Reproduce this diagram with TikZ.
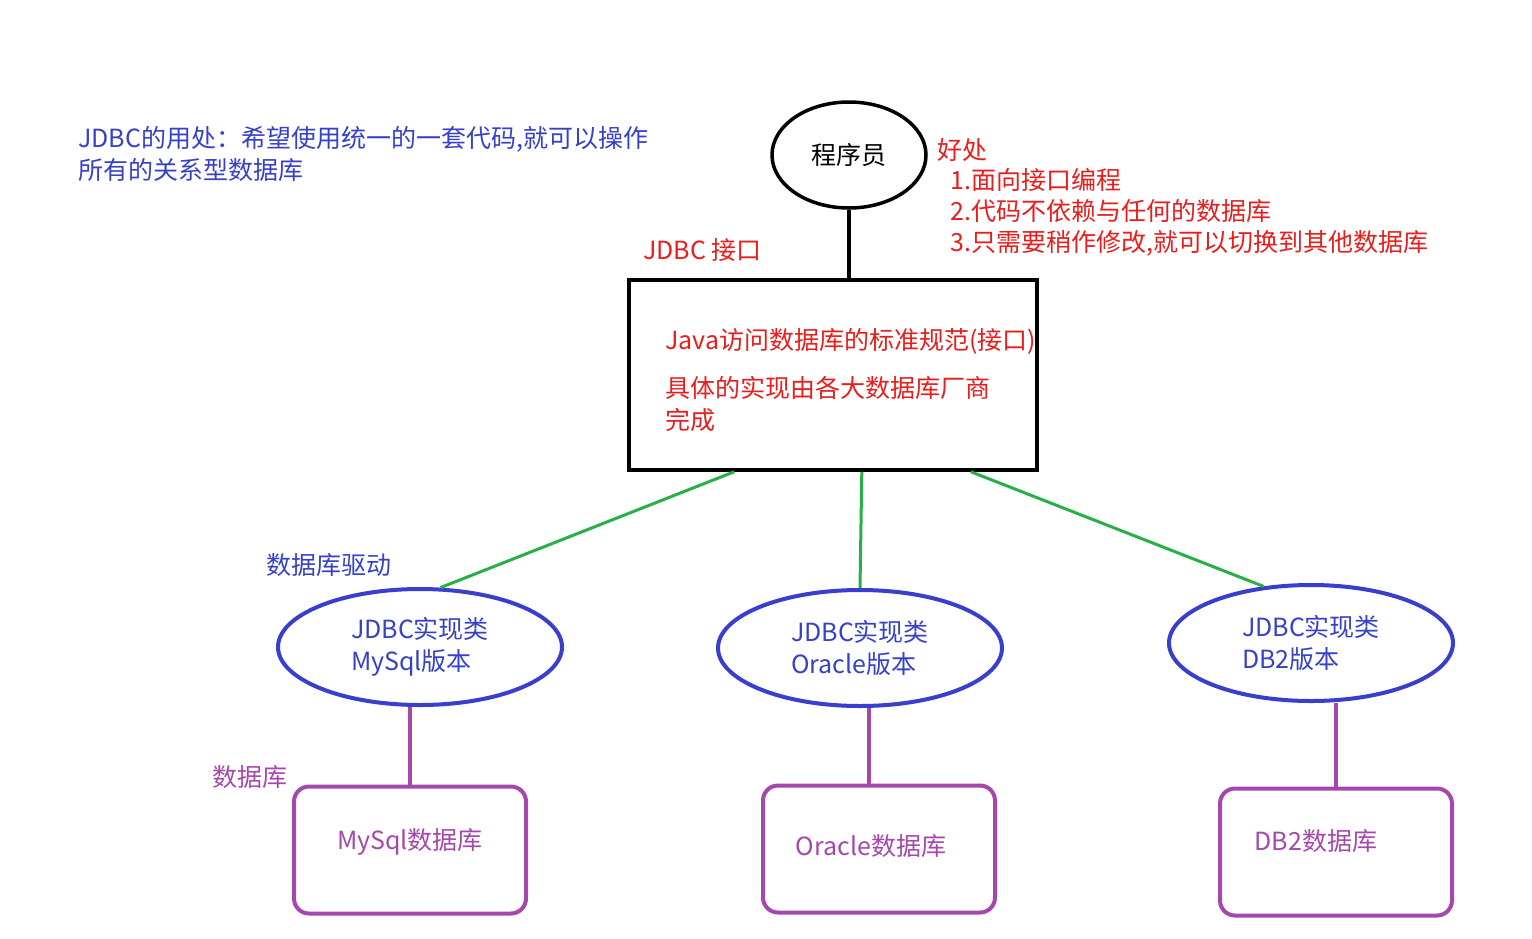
\documentclass[tikz,border=0pt]{standalone}
\usepackage{fontspec}
\setmainfont{Noto Sans CJK SC}
\usetikzlibrary{shapes.geometric,calc}
\definecolor{jred}{RGB}{232,30,30}
\definecolor{jtext}{RGB}{55,65,200}
\definecolor{jblue}{RGB}{58,62,205}
\definecolor{jpurple}{RGB}{165,72,172}
\definecolor{jgreen}{RGB}{40,176,70}
\begin{document}
\begin{tikzpicture}[x=0.5pt,y=-0.5pt,
    every node/.style={font=\fontsize{12.5}{16}\selectfont},
    txt/.style={inner sep=0pt,anchor=west,align=left},
    person/.style={ellipse,draw,line width=1.75pt,minimum width=77pt,minimum height=53pt},
    spec/.style={rectangle,draw,line width=1.75pt,minimum width=204pt,minimum height=95pt},
    driver/.style={ellipse,draw=jblue,line width=2pt,minimum width=142pt,minimum height=58pt,text=jtext,align=left},
    dbbox/.style={rectangle,rounded corners=7.5pt,draw=jpurple,line width=2pt,minimum width=116pt,minimum height=63.5pt},
    dbtxt/.style={inner sep=0pt,text=jpurple},
    link/.style={draw=jgreen,line width=1.5pt},
    plink/.style={draw=jpurple,line width=2pt}]
    \useasboundingbox[fill=white] (0,0) rectangle (1532,938);

    % top notes
    \node[txt,text=jtext] (use) at (78,154) {JDBC的用处：希望使用统一的一套代码,就可以操作\\所有的关系型数据库};
    \node[person] (coder) at (849,155) {程序员};
    \node[txt,text=jred] (gain) at (937,150) {好处};
    \node[txt,text=jred,font=\fontsize{12.5}{15.5}\selectfont] (gainlist) at (950,212) {1.面向接口编程\\2.代码不依赖与任何的数据库\\3.只需要稍作修改,就可以切换到其他数据库};

    % interface
    \node[spec] (iface) at (833,375) {};
    \node[txt,text=jred] (ifacelbl) at (643,250) {JDBC 接口};
    \node[txt,text=jred] (ifacetxt1) at (665,341) {Java访问数据库的标准规范(接口)};
    \node[txt,text=jred] (ifacetxt2) at (665,404) {具体的实现由各大数据库厂商\\完成};
    \draw[line width=1.75pt] (coder.south) -- (coder.south |- iface.north);

    % drivers
    \node[driver] (mysql) at (420,647) {JDBC实现类\\MySql版本};
    \node[driver] (oracle) at (860,648) {JDBC实现类\\Oracle版本};
    \node[driver] (db2) at (1311,643) {JDBC实现类\\DB2版本};
    \node[txt,text=jtext] (drvlbl) at (266,565) {数据库驱动};
    \draw[link] ($(iface.south west)!0.26!(iface.south east)$) -- (mysql.71);
    \draw[link] ($(iface.south west)!0.57!(iface.south east)$) -- (oracle.north);
    \draw[link] ($(iface.south west)!0.835!(iface.south east)$) -- (db2.130);

    % databases
    \node[dbbox] (mysqldb) at (410,850) {};
    \node[dbbox] (oracledb) at (879,849) {};
    \node[dbbox] (db2db) at (1336,852) {};
    \node[dbtxt] (mysqldbtxt) at ([yshift=4pt]mysqldb.center) {MySql数据库};
    \node[dbtxt] (oracledbtxt) at ([xshift=-4pt,yshift=1.5pt]oracledb.center) {Oracle数据库};
    \node[dbtxt] (db2dbtxt) at ([xshift=-10pt,yshift=5.5pt]db2db.center) {DB2数据库};
    \node[txt,text=jpurple] (dblbl) at (212,777) {数据库};
    \draw[plink] (mysqldb.north |- mysql.south) -- (mysqldb.north);
    \draw[plink] ([xshift=4.5pt]oracle.south) -- ([xshift=4.5pt]oracle.south |- oracledb.north);
    \draw[plink] (db2db.north |- db2.south) -- (db2db.north);
\end{tikzpicture}
\end{document}
